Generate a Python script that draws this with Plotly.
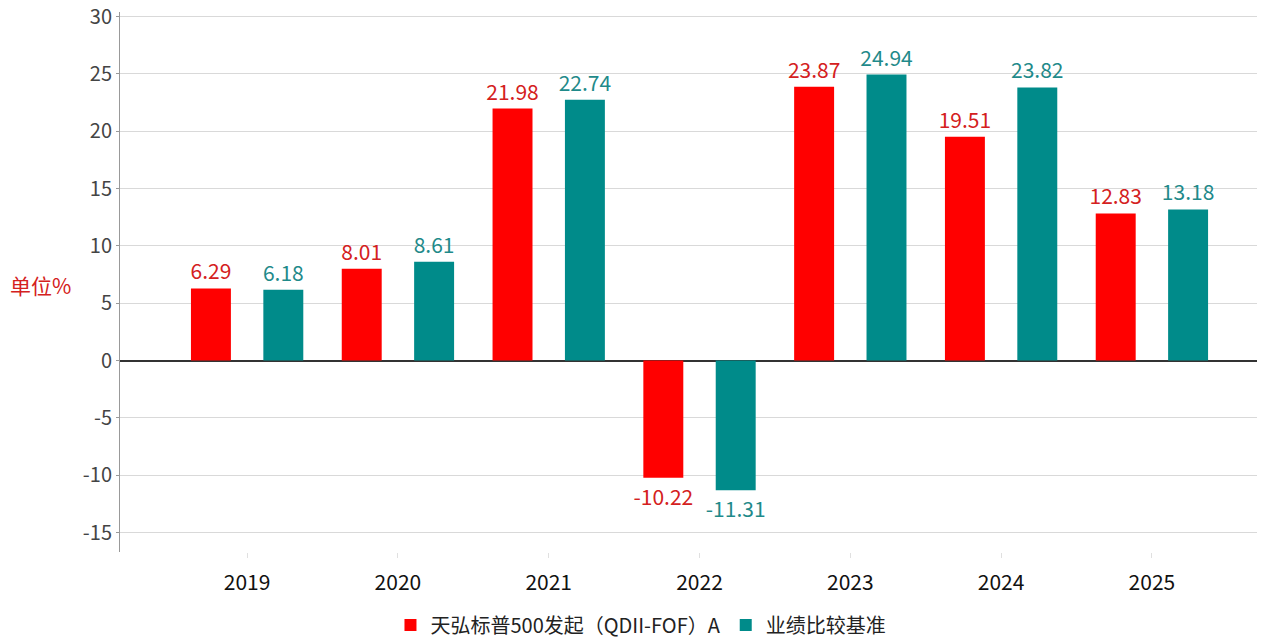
import plotly.graph_objects as go

years = ["2019", "2020", "2021", "2022", "2023", "2024", "2025"]
fund_name = "天弘标普500发起（QDII-FOF）A"
bench_name = "业绩比较基准"
fund_values = [6.29, 8.01, 21.98, -10.22, 23.87, 19.51, 12.83]
bench_values = [6.18, 8.61, 22.74, -11.31, 24.94, 23.82, 13.18]
y_ticks = [-15, -10, -5, 0, 5, 10, 15, 20, 25, 30]
y_tick_text = ["-15", "-10", "-5", "0", "5", "10", "15", "20", "25", "30"]

FONT = "Noto Sans CJK SC, Microsoft YaHei, sans-serif"

fig = go.Figure()
fig.add_trace(go.Bar(
    x=years, y=fund_values, name=fund_name,
    marker=dict(color="#FF0000", line=dict(width=0)),
    text=[f"{v:.2f}" for v in fund_values], textposition="outside",
    constraintext="none",
    textfont=dict(color="#D42020", size=21, family=FONT),
    cliponaxis=False,
))
fig.add_trace(go.Bar(
    x=years, y=bench_values, name=bench_name,
    marker=dict(color="#008B8A", line=dict(width=0)),
    text=[f"{v:.2f}" for v in bench_values], textposition="outside",
    constraintext="none",
    textfont=dict(color="#1F8A8A", size=21, family=FONT),
    cliponaxis=False,
))

# page body has an 8px default margin, so the figure is 8px smaller and shifted
fig.update_layout(
    width=1257, height=632,
    margin=dict(l=112, r=0, t=4, b=88, autoexpand=False),
    paper_bgcolor="white", plot_bgcolor="white",
    barmode="group", bargap=0.04, bargroupgap=0.448,
    font=dict(family=FONT, color="#222"),
    showlegend=True,
    legend=dict(orientation="h", x=0.455, xanchor="center", y=-0.135, yanchor="middle",
                font=dict(size=20, color="#222", family=FONT),
                itemwidth=30, tracegroupgap=0,
                traceorder="normal"),
    xaxis=dict(
        type="category", range=[-0.843, 6.75], automargin=False,
        showgrid=False, showline=False, zeroline=False,
        ticks="outside", ticklen=5, tickcolor="#e0e0e0",
        ticklabelstandoff=7,
        tickfont=dict(size=21, color="#111", family=FONT),
    ),
    yaxis=dict(
        range=[-16.7, 30.4], tickvals=y_ticks, ticktext=y_tick_text,
        automargin=False, ticklabeloverflow="allow",
        showgrid=True, gridcolor="#d9d9d9", gridwidth=1,
        showline=True, linecolor="#999", linewidth=1,
        ticks="outside", ticklen=3, tickcolor="#999",
        ticklabelstandoff=0,
        zeroline=True, zerolinecolor="#333", zerolinewidth=2,
        tickfont=dict(size=20, color="#444", family=FONT),
    ),
    annotations=[dict(
        text="单位%", xref="paper", yref="paper", x=-0.098, y=0.494,
        xanchor="left", yanchor="middle", showarrow=False,
        font=dict(size=21, color="#D42020", family=FONT),
    )],
)

fig.write_html("out.html")
